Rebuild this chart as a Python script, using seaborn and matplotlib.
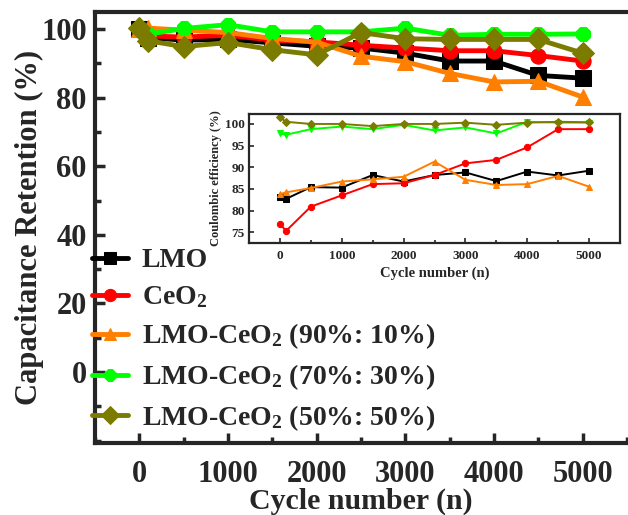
import matplotlib
matplotlib.use("Agg")
import matplotlib.pyplot as plt
from matplotlib.ticker import MultipleLocator
import pandas as pd
import seaborn as sns

# Cycle numbers shared by all series.
cycles = [0, 100, 500, 1000, 1500, 2000, 2500, 3000, 3500, 4000, 4500, 5000]

# Capacitance retention (%), main panel.
ret_lmo = [100, 97.5, 96.8, 97.0, 96.0, 95.0, 94.5, 93.0, 90.7, 90.7, 86.5, 85.7]
ret_ceo2 = [100, 98.0, 97.7, 98.2, 96.8, 96.3, 95.3, 94.5, 93.7, 93.7, 92.3, 90.7]
ret_90 = [100, 100.3, 99.7, 99.0, 97.3, 96.2, 92.1, 90.5, 87.1, 84.6, 84.8, 80.2]
ret_70 = [100, 98.5, 100.2, 101.3, 99.2, 99.2, 99.2, 100.3, 98.2, 98.5, 98.5, 98.6]
ret_50 = [100.3, 96.6, 94.9, 96.1, 94.0, 92.5, 99.0, 97.2, 97.0, 97.0, 97.0, 93.0]

# Coulombic efficiency (%), inset.
ce_lmo = [83.2, 82.7, 85.4, 85.3, 88.2, 86.7, 88.2, 88.8, 86.8, 89.0, 88.1, 89.2]
ce_ceo2 = [76.9, 75.3, 80.9, 83.5, 86.1, 86.3, 88.2, 90.9, 91.7, 94.6, 98.8, 98.8]
ce_90 = [83.8, 84.2, 85.2, 86.7, 87.2, 87.8, 91.3, 87.1, 85.9, 86.1, 88.0, 85.5]
ce_70 = [97.8, 97.5, 98.8, 99.4, 98.8, 99.8, 98.5, 99.2, 97.8, 100.5, 100.3, 100.3]
ce_50 = [101.5, 100.5, 100.0, 100.0, 99.5, 100.0, 100.0, 100.3, 99.8, 100.3, 100.5, 100.4]

labels = ["LMO", "CeO$_2$", "LMO-CeO$_2$ (90%: 10%)",
          "LMO-CeO$_2$ (70%: 30%)", "LMO-CeO$_2$ (50%: 50%)"]
colors = ["black", "#ff0000", "#ff7f00", "#00ff00", "#7b7b00"]
main_markers = ["s", "o", "^", "8", "D"]
inset_markers = ["s", "o", "^", "v", "D"]

sns.set_style("ticks")
plt.rcParams["font.family"] = ["Liberation Serif", "DejaVu Serif"]
plt.rcParams["font.weight"] = "bold"
plt.rcParams["mathtext.fontset"] = "custom"
plt.rcParams["mathtext.rm"] = "Liberation Serif:bold"
plt.rcParams["mathtext.it"] = "Liberation Serif:bold"
plt.rcParams["mathtext.bf"] = "Liberation Serif:bold"

fig = plt.figure(figsize=(6.28, 5.15), dpi=100)
ax = fig.add_axes((95 / 628, 1 - 443 / 515, 532 / 628, 431 / 515))

main_series = [ret_lmo, ret_ceo2, ret_90, ret_70, ret_50]
for vals, lab, col, mk in zip(main_series, labels, colors, main_markers):
    df = pd.DataFrame({"cycle": cycles, "value": vals})
    sns.lineplot(data=df, x="cycle", y="value", ax=ax, color=col, label=lab,
                 marker=mk, markersize=11, markeredgecolor=col,
                 linewidth=3.5)

ax.set_xlim(-500, 5500)
ax.set_ylim(-20.7, 105)
ax.xaxis.set_major_locator(MultipleLocator(1000))
ax.xaxis.set_minor_locator(MultipleLocator(500))
ax.set_yticks([0, 20, 40, 60, 80, 100])
ax.yaxis.set_minor_locator(MultipleLocator(10))
ax.tick_params(axis="both", which="both", direction="in", top=False, right=False,
               width=2.5)
ax.tick_params(axis="both", which="major", length=7, labelsize=22)
ax.tick_params(axis="both", which="minor", length=4)
ax.tick_params(axis="x", which="major", pad=12)
ax.tick_params(axis="y", which="major", pad=6)
for side in ["left", "bottom", "top"]:
    ax.spines[side].set_linewidth(3)
ax.spines["right"].set_visible(False)
ax.set_xlabel("Cycle number (n)", fontsize=21.5, fontweight="bold", labelpad=-1)
ax.set_ylabel("Capacitance Retention (%)", fontsize=22, fontweight="bold", labelpad=-2)

h, l = ax.get_legend_handles_labels()
ax.legend_.remove()
fig.legend(h, l, loc="upper left", bbox_to_anchor=(92 / 628, 1 - 248 / 515),
           frameon=False, fontsize=20, handlelength=1.3, handletextpad=0.5,
           labelspacing=0.4, markerscale=0.8, borderaxespad=0, borderpad=0)

# Inset: coulombic efficiency.
axi = fig.add_axes((249 / 628, 1 - 243 / 515, 371 / 628, 129 / 515))
inset_series = [ce_lmo, ce_ceo2, ce_90, ce_70, ce_50]
for vals, lab, col, mk in zip(inset_series, labels, colors, inset_markers):
    df = pd.DataFrame({"cycle": cycles, "value": vals})
    sns.lineplot(data=df, x="cycle", y="value", ax=axi, color=col,
                 marker=mk, markersize=4.5, markeredgecolor=col,
                 linewidth=1.4, legend=False)

axi.set_xlim(-500, 5500)
axi.set_ylim(72.5, 102.3)
axi.xaxis.set_major_locator(MultipleLocator(1000))
axi.xaxis.set_minor_locator(MultipleLocator(500))
axi.yaxis.set_major_locator(MultipleLocator(5))
axi.tick_params(axis="both", which="both", direction="in", top=False, right=False,
                width=1.2)
axi.tick_params(axis="both", which="major", length=3.5, labelsize=9.5, pad=3)
axi.tick_params(axis="both", which="minor", length=2)
axi.tick_params(axis="x", which="major", pad=5)
for side in axi.spines:
    axi.spines[side].set_linewidth(1.6)
axi.set_xlabel("Cycle number (n)", fontsize=10.5, fontweight="bold", labelpad=3)
axi.set_ylabel("Coulombic efficiency (%)", fontsize=9, fontweight="bold", labelpad=2)

fig.savefig("out.png", dpi=100)
